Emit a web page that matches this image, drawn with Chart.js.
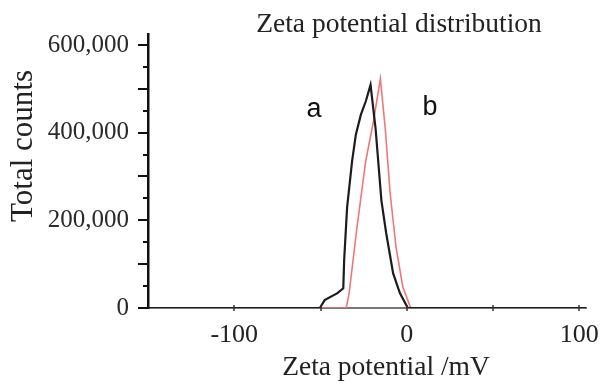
<!DOCTYPE html>
<html>
<head>
<meta charset="utf-8">
<script src="https://cdn.jsdelivr.net/npm/chart.js@4"></script>
<style>
  html, body { margin:0; padding:0; background:#fff; }
  #wrap { width:611px; height:387px; }
</style>
</head>
<body>
<div id="wrap"><canvas id="zetaChart" width="611" height="387"></canvas></div>
<script>
// sample a (black)
var xA = [-150, -50.4, -47.6, -40.2, -36.8, -36.3, -34.6, -31.7, -29.5, -26.6, -23.8, -21, -18.1, -14.7, -11.9, -7.9, -4, 0.6, 104];
var yA = [0, 0, 18000, 34000, 45000, 109000, 229000, 335000, 396000, 441000, 471000, 509000, 410000, 245000, 170000, 79000, 34000, 0, 0];
// sample b (red)
var xB = [-150, -35.1, -33.4, -28.9, -23.8, -19.3, -15.3, -12.5, -9.6, -6.2, -2.3, 2.3, 104];
var yB = [0, 0, 34000, 183000, 335000, 426000, 523000, 410000, 260000, 138000, 48000, 0, 0];

var xTicks = [-100, -50, 0, 50, 100];
var xTickLabels = [-100, 0, 100];
var yTicks = [0, 50000, 100000, 150000, 200000, 250000, 300000, 350000, 400000, 450000, 500000, 550000, 600000];
var yTickLabels = [0, 200000, 400000, 600000];

var serif = '"Liberation Serif", "Times New Roman", serif';

function pts(xs, ys){
  var out = [];
  for (var i=0;i<xs.length;i++) out.push({ x:xs[i], y:ys[i] });
  return out;
}

//Texts + tick marks
var decor = {
  id:'decor',
  afterDraw: function(chart){
    var c = chart.ctx, a = chart.chartArea;
    var xs = chart.scales.x, ys = chart.scales.y;
    c.save();
    c.strokeStyle = '#111';
    c.lineWidth = 2;
    // y ticks
    ys.ticks.forEach(function(t){
      var py = Math.round(ys.getPixelForValue(t.value));
      var len = (t.value % 100000 === 0) ? 10 : 5;
      c.beginPath(); c.moveTo(a.left - len, py); c.lineTo(a.left, py); c.stroke();
    });
    // x ticks
    c.lineWidth = 1.5;
    c.strokeStyle = '#333';
    xs.ticks.forEach(function(t){
      var px = Math.round(xs.getPixelForValue(t.value));
      c.beginPath(); c.moveTo(px, a.bottom - 3); c.lineTo(px, a.bottom + 3); c.stroke();
    });

    c.fillStyle = '#222';
    c.textAlign = 'center';
    c.textBaseline = 'middle';
    c.font = '27.5px ' + serif;
    c.fillText('Zeta potential distribution', 399, 25);
    c.font = '27.5px ' + serif;
    c.fillText('Zeta potential /mV', 386, 368);
    c.save();
    c.translate(24, 146);
    c.rotate(-Math.PI/2);
    c.font = '31px ' + serif;
    c.fillText('Total counts', 0, 0);
    c.restore();
    c.font = '27px "Liberation Sans", Arial, sans-serif';
    c.fillStyle = '#111';
    c.fillText('a', 314, 110);
    c.fillText('b', 430, 108);
    c.restore();
  }
};

new Chart(document.getElementById('zetaChart').getContext('2d'), {
  type:'line',
  data:{
    datasets:[
      { label:'a', data:pts(xA, yA), borderColor:'#1c1c1c', borderWidth:2.2, pointRadius:0, tension:0, order:1 },
      { label:'b', data:pts(xB, yB), borderColor:'rgb(242,118,118)', borderWidth:1.6, pointRadius:0, tension:0, order:2 }
    ]
  },
  options:{
    responsive:false,
    animation:false,
    layout:{ padding:{ left:0, right:13, top:32, bottom:0 } },
    plugins:{ legend:{ display:false }, title:{ display:false }, tooltip:{ enabled:false } },
    scales:{
      x:{
        type:'linear', min:-150, max:104,
        grid:{ display:false, drawTicks:false },
        border:{ display:true, color:'#777', width:2 },
        afterBuildTicks:function(s){ s.ticks = xTicks.map(function(v){ return { value:v }; }); },
        ticks:{
          autoSkip:false, maxRotation:0, padding:12,
          color:'#222', font:{ family:serif, size:26 },
          callback:function(v){ return xTickLabels.indexOf(v) >= 0 ? String(v) : ''; }
        },
        afterFit:function(s){ s.height = 79; }
      },
      y:{
        type:'linear', min:0, max:625000,
        grid:{ display:false, drawTicks:false },
        border:{ display:true, color:'#111', width:2.5 },
        afterBuildTicks:function(s){ s.ticks = yTicks.map(function(v){ return { value:v }; }); },
        ticks:{
          autoSkip:false, padding:19,
          color:'#2a2a2a', font:{ family:serif, size:25 },
          callback:function(v){ return yTickLabels.indexOf(v) >= 0 ? v.toLocaleString('en-US') : ''; }
        },
        afterFit:function(s){ s.width = 148; }
      }
    }
  },
  plugins:[decor]
});
</script>
</body>
</html>
